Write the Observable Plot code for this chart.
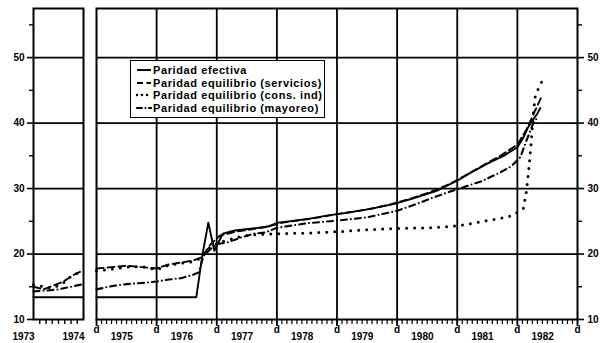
<!DOCTYPE html>
<html><head><meta charset="utf-8">
<script src="https://cdn.jsdelivr.net/npm/d3@7"></script>
<script src="https://cdn.jsdelivr.net/npm/@observablehq/plot@0.6"></script>
<style>
body{margin:0;background:#fff;}
#wrap{position:relative;width:601px;height:343px;overflow:hidden;background:#fff;}
#wrap svg{position:absolute;top:0;}
#legend{position:absolute;left:130px;top:60px;width:195px;height:58px;border:1.6px solid #000;background:#fff;box-sizing:border-box;padding-top:3px;font-family:"Liberation Sans",Arial,sans-serif;}
.row{display:flex;align-items:center;height:12.5px;font-size:11px;letter-spacing:0.6px;font-weight:bold;color:#000;white-space:nowrap;}
.row svg{position:static !important;margin:0 1px 0 5px;}
</style>
</head><body>
<div id="wrap"></div>
<script>
// ---- data ----
const yLabels = [10, 20, 30, 40, 50];
const yMinor = [15, 25, 35, 45, 55];
const yGrid = [20, 30, 40, 50];
const leftYears = [1973, 1974];
const rightYears = [1975, 1976, 1977, 1978, 1979, 1980, 1981, 1982];
const yearBounds = [1975, 1976, 1977, 1978, 1979, 1980, 1981, 1982, 1983];
const seriesNames = ["Paridad efectiva", "Paridad equilibrio (servicios)", "Paridad equilibrio (cons. ind)", "Paridad equilibrio (mayoreo)"];

const tEfectiva = [1973.0, 1974.98, 1975.0, 1976.66, 1976.76, 1976.86, 1976.96, 1977.10, 1977.30, 1977.60, 1977.85, 1978.02, 1978.30, 1978.55, 1978.85, 1979.10, 1979.56, 1979.97, 1980.27, 1980.67, 1981.00, 1981.22, 1981.50, 1981.77, 1982.00, 1982.10, 1982.17, 1982.25, 1982.33, 1982.38];
const efectiva = [13.4, 13.4, 13.4, 13.4, 19.8, 24.8, 20.5, 23.1, 23.6, 23.9, 24.2, 24.8, 25.1, 25.4, 25.9, 26.2, 26.9, 27.7, 28.5, 29.7, 31.2, 32.4, 33.8, 35.0, 36.3, 37.8, 39.2, 40.4, 41.4, 42.3];

const tServicios = [1973.0, 1973.4, 1973.8, 1974.2, 1974.6, 1974.98, 1975.0, 1975.25, 1975.5, 1975.75, 1976.0, 1976.2, 1976.4, 1976.6, 1976.75, 1976.9, 1977.05, 1977.3, 1977.6, 1977.85, 1978.1, 1978.4, 1978.7, 1979.0, 1979.3, 1979.6, 1979.9, 1980.2, 1980.5, 1980.8, 1981.0, 1981.25, 1981.5, 1981.75, 1982.0, 1982.15, 1982.3, 1982.4];
const servicios = [15.0, 14.6, 15.2, 15.8, 16.8, 17.5, 17.8, 18.0, 18.2, 18.0, 17.8, 18.4, 18.7, 19.0, 19.5, 21.5, 22.8, 23.4, 23.8, 24.2, 24.8, 25.2, 25.6, 26.1, 26.5, 27.0, 27.6, 28.4, 29.3, 30.4, 31.3, 32.6, 33.9, 35.2, 36.7, 39.0, 42.0, 44.0];

const tConsInd = [1973.0, 1973.4, 1973.8, 1974.2, 1974.6, 1974.98, 1975.0, 1975.25, 1975.5, 1975.75, 1976.0, 1976.2, 1976.4, 1976.6, 1976.72, 1976.85, 1977.0, 1977.2, 1977.45, 1977.7, 1978.0, 1978.5, 1979.0, 1979.5, 1980.0, 1980.5, 1980.9, 1981.2, 1981.5, 1981.75, 1981.92, 1982.1, 1982.15, 1982.19, 1982.23, 1982.26, 1982.3, 1982.42];
const consInd = [15.3, 15.0, 14.8, 15.6, 16.9, 17.3, 17.4, 17.7, 18.0, 18.1, 17.6, 18.3, 18.6, 18.8, 19.3, 20.8, 21.6, 22.2, 22.8, 23.0, 23.1, 23.2, 23.4, 23.7, 23.9, 24.0, 24.2, 24.6, 25.1, 25.5, 25.9, 27.0, 29.5, 33.0, 37.0, 41.0, 44.3, 46.6];

const tMayoreo = [1973.0, 1973.5, 1974.0, 1974.5, 1974.98, 1975.0, 1975.25, 1975.5, 1975.8, 1976.0, 1976.2, 1976.4, 1976.6, 1976.7, 1976.78, 1976.9, 1977.0, 1977.18, 1977.4, 1977.61, 1977.81, 1978.0, 1978.5, 1979.0, 1979.5, 1980.0, 1980.25, 1980.65, 1981.0, 1981.4, 1981.7, 1981.9, 1982.05, 1982.15, 1982.27, 1982.35];
const mayoreo = [14.3, 14.4, 14.6, 15.0, 15.4, 14.6, 15.1, 15.4, 15.6, 15.8, 16.1, 16.3, 16.8, 17.2, 19.7, 20.8, 21.5, 21.8, 22.5, 23.1, 23.3, 24.0, 24.7, 25.1, 25.6, 26.6, 27.4, 28.8, 29.9, 31.1, 32.4, 33.4, 34.8, 37.3, 40.1, 41.0];

// ---- styles ----
const lineStyles = [
  {strokeWidth: 1.9},
  {strokeWidth: 1.9, strokeDasharray: "7,4"},
  {strokeWidth: 3, strokeDasharray: "0,8", strokeLinecap: "round"},
  {strokeWidth: 2.1, strokeDasharray: "6,4,0,4", strokeLinecap: "round"}
];
const seriesData = [[tEfectiva, efectiva], [tServicios, servicios], [tConsInd, consInd], [tMayoreo, mayoreo]]
  .map(([t, v], i) => t.map((x, j) => ({t: x, v: v[j], s: i})));

const H = 343, MT = 8, MB = 24;
const yScale = {domain: [10, 57.5], axis: null};
const baseStyle = {fontFamily: "'Liberation Sans', Arial, sans-serif", fontSize: "10px", fontWeight: "bold", color: "#000", background: "transparent", overflow: "visible"};

function lineMarks(filter) {
  return seriesData.map((d, i) => Plot.line(d.filter(filter), {x: "t", y: "v", stroke: "#000", strokeLinejoin: "round", ...lineStyles[i]}));
}

// left panel 1973-1974
const left = Plot.plot({
  width: 90, height: H, marginLeft: 33, marginRight: 7, marginTop: MT, marginBottom: MB,
  style: baseStyle,
  x: {domain: [1973, 1975]},
  y: yScale,
  marks: [
    Plot.ruleY(yGrid, {stroke: "#000", strokeWidth: 1.8}),
    ...lineMarks(d => d.t < 1975),
    Plot.frame({stroke: "#000", strokeWidth: 2}),
    Plot.axisY(yLabels, {anchor: "left", tickSize: 6, tickPadding: 3, strokeWidth: 1.6, label: null}),
    Plot.axisY(yMinor, {anchor: "left", tickSize: 4, tickFormat: () => "", strokeWidth: 1.4, label: null}),
    Plot.axisX(d3.range(1973.25, 1975, 0.25), {anchor: "bottom", tickSize: 5, tickFormat: () => "", strokeWidth: 1.4, label: null}),
    Plot.text(leftYears, {x: d => d === 1973 ? 1972.6 : d + 0.6, y: 10, text: d => String(d), dy: 17})
  ]
});

// right panel 1975-1982
const right = Plot.plot({
  width: 511, height: H, marginLeft: 6, marginRight: 24, marginTop: MT, marginBottom: MB,
  style: baseStyle,
  x: {domain: [1975, 1983]},
  y: yScale,
  marks: [
    Plot.ruleY(yGrid, {stroke: "#000", strokeWidth: 1.8}),
    Plot.ruleX(yearBounds.slice(1, -1), {stroke: "#000", strokeWidth: 1.8}),
    ...lineMarks(d => d.t >= 1975),
    Plot.frame({stroke: "#000", strokeWidth: 2}),
    Plot.axisY(yLabels, {anchor: "right", tickSize: 6, tickPadding: 4, strokeWidth: 1.6, label: null}),
    Plot.axisY(yMinor, {anchor: "right", tickSize: 4, tickFormat: () => "", strokeWidth: 1.4, label: null}),
    Plot.axisX(d3.range(1975 + 1/12, 1983, 1/12), {anchor: "bottom", tickSize: 5, tickFormat: () => "", strokeWidth: 1.2, label: null}),
    Plot.axisX(yearBounds, {anchor: "bottom", tickSize: 7, tickPadding: -1, tickFormat: () => "d", strokeWidth: 1.8, label: null}),
    Plot.text(rightYears, {x: d => d + 0.42, y: 10, text: d => String(d), dy: 17})
  ]
});

const wrap = document.getElementById("wrap");
left.style.left = "0px";
right.style.left = "90px";
wrap.appendChild(left);
wrap.appendChild(right);

// legend
const legend = document.createElement("div");
legend.id = "legend";
const dashes = ["", "6,3.5", "0,5", "5,3.5,0,3.5"];
const widths = [1.9, 1.9, 2.6, 2.1];
seriesNames.forEach((name, i) => {
  const row = document.createElement("div");
  row.className = "row";
  row.innerHTML = `<svg width="16" height="8"><line x1="1" y1="4" x2="15" y2="4" stroke="#000" stroke-width="${widths[i]}" stroke-dasharray="${dashes[i]}" stroke-linecap="${i >= 2 ? "round" : "butt"}"/></svg><span>${name}</span>`;
  legend.appendChild(row);
});
wrap.appendChild(legend);
</script>
</body></html>
